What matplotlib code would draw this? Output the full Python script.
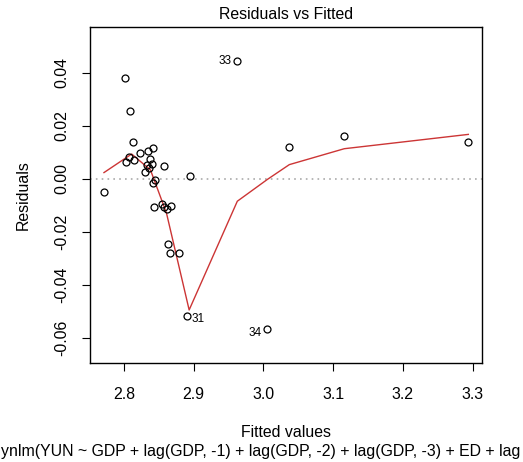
"""Residuals vs Fitted (R plot.lm style)."""

import matplotlib
matplotlib.use("Agg")
import matplotlib.pyplot as plt

plt.rcParams["font.family"] = ["Liberation Sans", "DejaVu Sans"]

# fitted values / residuals
fitted = [2.7713, 2.8020, 2.8090, 2.8134, 2.8029, 2.8077, 2.8148, 2.8234,
          2.8349, 2.8412, 2.8378, 2.8330, 2.8406, 2.8306, 2.8359, 2.8578,
          2.8412, 2.8449, 2.8951, 2.8435, 2.8541, 2.8570, 2.8622, 2.8670,
          2.8636, 2.8665, 2.8794, 2.8906, 2.9626, 3.0056, 3.0372, 3.1160,
          3.2940]
resid = [-0.0049, 0.0379, 0.0254, 0.0140, 0.0062, 0.0083, 0.0071, 0.0098,
         0.0106, 0.0115, 0.0073, 0.0052, 0.0054, 0.0026, 0.0042, 0.0047,
         -0.0015, -0.0004, 0.0011, -0.0106, -0.0095, -0.0108, -0.0113, -0.0102,
         -0.0245, -0.0279, -0.0282, -0.0519, 0.0443, -0.0565, 0.0121, 0.0162,
         0.0140]

# smoother (lowess) vertices
smooth_x = [2.7713, 2.8110, 2.8380, 2.8610, 2.8935, 2.9626, 3.0056, 3.0372, 3.1160, 3.2940]
smooth_y = [0.0023, 0.0093, 0.0033, -0.0130, -0.0495, -0.0085, -0.0003, 0.0053, 0.0113, 0.0167]

# labelled observations: (name, fitted, residual)
labels = [("33", 2.9626, 0.0443), ("31", 2.8906, -0.0519), ("34", 3.0056, -0.0565)]

xticks = [2.8, 2.9, 3.0, 3.1, 3.2, 3.3]
yticks = [-0.06, -0.04, -0.02, 0.00, 0.02, 0.04]
ytick_labels = ["-0.06", "-0.04", "-0.02", "0.00", "0.02", "0.04"]

FS = 11.4

fig = plt.figure(figsize=(5.23, 4.62), dpi=100)
ax = fig.add_axes([0.172, 0.2143, 0.7496, 0.7267])

ax.axhline(0, color="#aaaaaa", linestyle=(0, (1, 2.5)), linewidth=1.2, zorder=1)
ax.plot(smooth_x, smooth_y, color="#cc3535", linewidth=1.0, zorder=2)
ax.plot(fitted, resid, linestyle="none", marker="o", markersize=5,
        markerfacecolor="none", markeredgecolor="black", markeredgewidth=0.9, zorder=3)

for name, fx, ry in labels:
    if name == "33":
        ax.annotate(name, (fx, ry), xytext=(-4, 0), textcoords="offset points",
                    ha="right", va="center", fontsize=8.5)
    elif name == "31":
        ax.annotate(name, (fx, ry), xytext=(3, -2), textcoords="offset points",
                    ha="left", va="center", fontsize=8.5)
    else:
        ax.annotate(name, (fx, ry), xytext=(-4, -3), textcoords="offset points",
                    ha="right", va="center", fontsize=8.5)

ax.set_xlim(2.7512, 3.3136)
ax.set_ylim(-0.0695, 0.0571)
ax.set_xticks(xticks)
ax.set_yticks(yticks)
ax.set_yticklabels(ytick_labels, rotation=90, va="center")
ax.tick_params(direction="out", length=6, width=0.8, labelsize=FS)
ax.tick_params(axis="x", pad=11.5)
ax.tick_params(axis="y", pad=9)
for s in ax.spines.values():
    s.set_linewidth(1.0)

ax.set_title("Residuals vs Fitted", fontsize=FS, pad=6)
ax.set_xlabel("Fitted values", fontsize=FS, va="baseline")
ax.xaxis.set_label_coords(0.5, -0.219)
ax.set_ylabel("Residuals", fontsize=FS, labelpad=16.5)

fig.text(0.002, 1 - 455.8 / 462, "ynlm(YUN ~ GDP + lag(GDP, -1) + lag(GDP, -2) + lag(GDP, -3) + ED + lag",
         ha="left", va="baseline", fontsize=FS)

fig.savefig("out.png", dpi=100)
